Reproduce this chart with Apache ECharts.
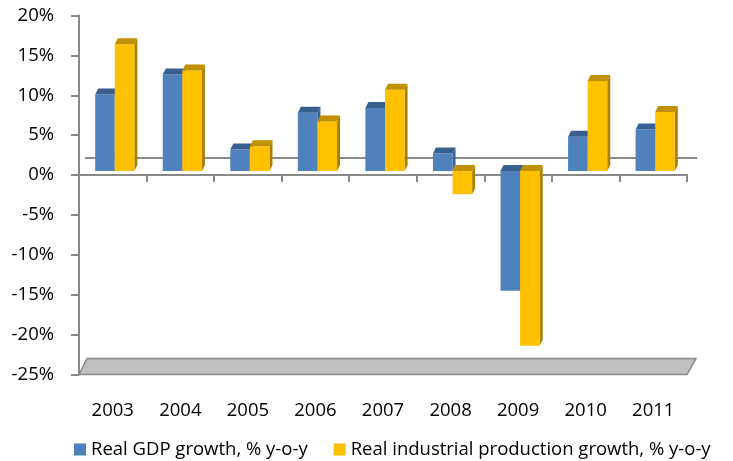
<!DOCTYPE html>
<html>
<head>
<meta charset="utf-8">
<script src="https://cdn.jsdelivr.net/npm/echarts@6/dist/echarts.min.js"></script>
<style>
html,body{margin:0;padding:0;background:#fff;}
#chart{width:733px;height:461px;}
</style>
</head>
<body>
<div id="chart"></div>
<script>
var years = ['2003','2004','2005','2006','2007','2008','2009','2010','2011'];
var gdpGrowth = [9.6, 12.1, 2.7, 7.3, 7.9, 2.2, -15.0, 4.3, 5.2];
var industrialGrowth = [15.9, 12.6, 3.1, 6.2, 10.2, -2.9, -21.9, 11.3, 7.4];
var seriesNames = ['Real GDP growth, % y-o-y', 'Real industrial production growth, % y-o-y'];
var yMin = -25, yMax = 20, yStep = 5;

var FONT = '"Open Sans", "Liberation Sans", sans-serif';
var FS = 18.5;

var colorsFront = ['#4F81BD', '#FFC000'];
var colorsTop = ['#385F8E', '#C09000'];
var colorsSide = ['#3B6495', '#A98000'];

function barRenderer(sIdx) {
  return function (params, api) {
    var i = api.value(0), v = api.value(1);
    var p0 = api.coord([i, 0]);
    var pv = api.coord([i, v]);
    var catW = api.size([1, 0])[0];
    var barW = catW * 0.29;
    var ox = 2, oy = -4, dx = 3, dy = -6;
    var L = (sIdx === 0 ? p0[0] - barW : p0[0]) + ox;
    var R = L + barW;
    var yTop = Math.min(p0[1], pv[1]) + oy;
    var yBot = Math.max(p0[1], pv[1]) + oy;
    return {
      type: 'group',
      children: [
        { type: 'polygon', shape: { points: [[R, yTop], [R + dx, yTop + dy], [R + dx, yBot + dy], [R, yBot]] },
          style: { fill: colorsSide[sIdx] } },
        { type: 'rect', shape: { x: L, y: yTop, width: barW, height: yBot - yTop },
          style: { fill: colorsFront[sIdx] } },
        { type: 'polygon', shape: { points: [[L, yTop], [R, yTop], [R + dx, yTop + dy], [L + dx, yTop + dy]] },
          style: { fill: colorsTop[sIdx] } }
      ]
    };
  };
}

function decorRenderer(params, api) {
  var cs = params.coordSys;
  var x0 = cs.x, x1 = cs.x + cs.width;
  var yF = api.coord([0, yMin])[1];
  var yZ = api.coord([0, 0])[1];
  return {
    type: 'group',
    children: [
      { type: 'polygon', shape: { points: [[x0, yF], [x1, yF], [x1 + 9, yF - 16], [x0 + 8, yF - 16]] },
        style: { fill: '#BFBFBF', stroke: '#898989', lineWidth: 1.5 } },
      { type: 'line', shape: { x1: x0 + 6, y1: yZ - 17, x2: x1 + 10, y2: yZ - 17 },
        style: { stroke: '#898989', lineWidth: 2 } }
    ]
  };
}

var chart = echarts.init(document.getElementById('chart'), null, { renderer: 'canvas' });
chart.setOption({
  animation: false,
  backgroundColor: '#fff',
  grid: { left: 79, right: 46, top: 15.5, bottom: 86.5, containLabel: false },
  legend: {
    left: 69, top: 435,
    itemWidth: 12, itemHeight: 12, itemGap: 26,
    icon: 'rect',
    textStyle: { fontFamily: FONT, fontSize: FS, color: '#000' },
    data: seriesNames
  },
  xAxis: [
    {
      type: 'category', data: years,
      axisLine: { onZero: true, lineStyle: { color: '#898989', width: 2 } },
      axisTick: { show: true, length: 7, lineStyle: { color: '#898989', width: 2 } },
      axisLabel: { show: false },
      splitLine: { show: false }
    },
    {
      type: 'category', data: years, position: 'bottom',
      axisLine: { show: false, onZero: false },
      axisTick: { show: false },
      axisLabel: { margin: 27, fontFamily: FONT, fontSize: FS, color: '#000' },
      splitLine: { show: false }
    }
  ],
  yAxis: {
    type: 'value', min: yMin, max: yMax, interval: yStep,
    axisLine: { show: true, lineStyle: { color: '#898989', width: 2 } },
    axisTick: { show: true, length: 8, lineStyle: { color: '#898989', width: 2 } },
    axisLabel: { margin: 25, fontFamily: FONT, fontSize: FS, color: '#000', formatter: '{value}%' },
    splitLine: { show: false }
  },
  series: [
    { type: 'custom', name: 'decor', renderItem: decorRenderer, data: [[0, 0]], z: 1, silent: true },
    { type: 'custom', name: seriesNames[0], renderItem: barRenderer(0), itemStyle: { color: colorsFront[0] },
      data: gdpGrowth.map(function (v, i) { return [i, v]; }), z: 3 },
    { type: 'custom', name: seriesNames[1], renderItem: barRenderer(1), itemStyle: { color: colorsFront[1] },
      data: industrialGrowth.map(function (v, i) { return [i, v]; }), z: 3 }
  ]
});
</script>
</body>
</html>
